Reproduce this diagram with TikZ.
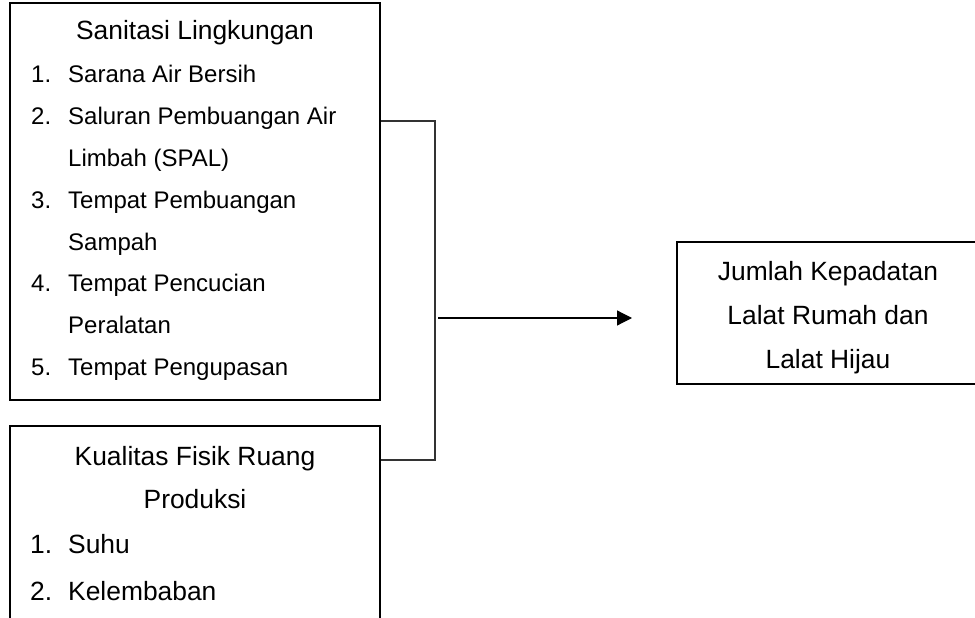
\documentclass[tikz,border=0pt]{standalone}
\usepackage{fontspec}
\setmainfont{Liberation Sans}
\usetikzlibrary{arrows.meta}
\begin{document}
\begin{tikzpicture}[x=1pt,y=-1pt,
  box/.style={draw=black,line width=1.6pt,rectangle,inner sep=0pt},
  txt/.style={anchor=base,inner sep=0pt,font=\fontsize{26.4}{30}\selectfont},
  num/.style={anchor=base west,inner sep=0pt,font=\fontsize{26.4}{30}\selectfont},
  item/.style={anchor=base west,inner sep=0pt,font=\fontsize{26.4}{30}\selectfont},
  snum/.style={anchor=base west,inner sep=0pt,font=\fontsize{24}{28}\selectfont},
  sitem/.style={anchor=base west,inner sep=0pt,font=\fontsize{24}{28}\selectfont},
  link/.style={draw=black!80,line width=1.1pt},
  arrowline/.style={draw=black,line width=1.2pt,-{Triangle[length=15pt,width=15pt]}}]
\useasboundingbox (0,0) rectangle (975,618);
% boxes
\node[box,minimum width=370pt,minimum height=397pt] (b1) at (195,201.5) {};
\node[box,minimum width=370pt,minimum height=240pt] (b2) at (195,546) {};
\node[box,minimum width=320pt,minimum height=142pt] (b3) at (837,313) {};
% box 1 text
\node[txt] (t1) at (195,40) {Sanitasi Lingkungan};
\node[snum] (n1) at (31,82.5) {1.};
\node[sitem] (i1) at (68,82.5) {Sarana Air Bersih};
\node[snum] (n2) at (31,124.5) {2.};
\node[sitem] (i2) at (68,124.5) {Saluran Pembuangan Air};
\node[sitem] (i2b) at (68,166.5) {Limbah (SPAL)};
\node[snum] (n3) at (31,208) {3.};
\node[sitem] (i3) at (68,208) {Tempat Pembuangan};
\node[sitem] (i3b) at (68,250) {Sampah};
\node[snum] (n4) at (31,291.5) {4.};
\node[sitem] (i4) at (68,291.5) {Tempat Pencucian};
\node[sitem] (i4b) at (68,333) {Peralatan};
\node[snum] (n5) at (31,375) {5.};
\node[sitem] (i5) at (68,375) {Tempat Pengupasan};
% box 2 text
\node[txt] (t2) at (195,465) {Kualitas Fisik Ruang};
\node[txt] (t2b) at (195,508) {Produksi};
\node[num] (m1) at (30,553) {1.};
\node[item] (j1i) at (68,553) {Suhu};
\node[num] (m2) at (30,600) {2.};
\node[item] (j2i) at (68,600) {Kelembaban};
% box 3 text
\node[txt] (r1) at (828,280) {Jumlah Kepadatan};
\node[txt] (r2) at (828,324) {Lalat Rumah dan};
\node[txt] (r3) at (828,368) {Lalat Hijau};
% connectors
\coordinate (ja) at (435,121);
\coordinate (jb) at (435,460);
\coordinate (a0) at (438,318);
\coordinate (a1) at (632,318);
\draw[link] (b1.east |- ja) -- (ja) -- (jb) -- (b2.east |- jb);
\draw[arrowline] (a0) -- (a1);
\end{tikzpicture}
\end{document}
